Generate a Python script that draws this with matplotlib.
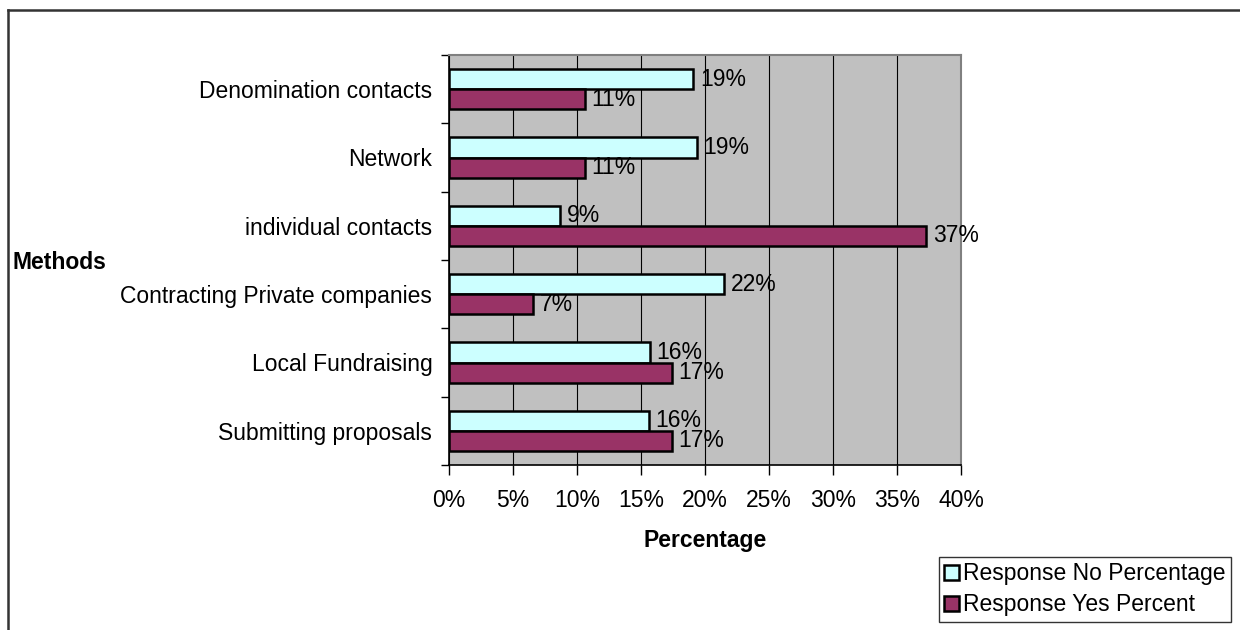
import numpy as np
import matplotlib
matplotlib.use("Agg")
import matplotlib.pyplot as plt
from matplotlib.lines import Line2D

plt.rcParams['font.family'] = ['Liberation Sans', 'DejaVu Sans']

# Fundraising methods, listed bottom to top
methods = ["Submitting proposals", "Local Fundraising", "Contracting Private companies",
           "individual contacts", "Network", "Denomination contacts"]
no_pct = [15.6, 15.7, 21.5, 8.7, 19.4, 19.1]
yes_pct = [17.4, 17.4, 6.6, 37.3, 10.6, 10.6]
xticks = [0, 5, 10, 15, 20, 25, 30, 35, 40]

FS = 16.5

fig = plt.figure(figsize=(12.4, 6.3), dpi=100)
ax = fig.add_axes([449 / 1240, 165 / 630, 512 / 1240, 410 / 630])
ax.set_facecolor("#C0C0C0")

y = np.arange(len(methods))
h = 0.293
ax.barh(y + h / 2, no_pct, height=h, color="#CCFFFF", edgecolor="black",
        linewidth=1.8, label="Response No Percentage", zorder=3)
ax.barh(y - h / 2, yes_pct, height=h, color="#993366", edgecolor="black",
        linewidth=1.8, label="Response Yes Percent", zorder=3)

# value labels at the end of each bar
for yi, v in zip(y, no_pct):
    ax.text(v + 0.5, yi + h / 2, f"{v:.0f}%", va="center", ha="left", fontsize=FS, zorder=4)
for yi, v in zip(y, yes_pct):
    ax.text(v + 0.5, yi - h / 2, f"{v:.0f}%", va="center", ha="left", fontsize=FS, zorder=4)

ax.set_xlim(0, 40)
ax.set_ylim(-0.5, len(methods) - 0.5)
ax.set_xticks(xticks)
ax.set_xticklabels([f"{t}%" for t in xticks], fontsize=FS)
ax.tick_params(axis="x", direction="out", length=7, width=1, pad=10)

# category boundaries get the tick marks, names sit in between
ax.set_yticks(np.arange(-0.5, len(methods), 1.0))
ax.set_yticklabels([])
ax.set_yticks(y, minor=True)
ax.set_yticklabels(methods, minor=True, fontsize=FS)
ax.tick_params(axis="y", which="major", direction="out", length=6, width=1)
ax.tick_params(axis="y", which="minor", length=0, pad=12)

ax.grid(axis="x", color="black", linewidth=0.8, zorder=1)
ax.set_axisbelow(True)
for s in ["top", "right"]:
    ax.spines[s].set_color("#808080")
    ax.spines[s].set_linewidth(1.5)
for s in ["left", "bottom"]:
    ax.spines[s].set_color("black")
    ax.spines[s].set_linewidth(1.2)

fig.text(705 / 1240, 1 - 541 / 630, "Percentage", ha="center", va="center",
         fontsize=FS, fontweight="bold")
fig.text(12 / 1240, 1 - 262 / 630, "Methods", ha="left", va="center",
         fontsize=FS, fontweight="bold")

leg = fig.legend(loc="lower right", bbox_to_anchor=(1231 / 1240, 8 / 630),
                 fontsize=FS, frameon=True, fancybox=False, shadow=False,
                 handlelength=0.65, handleheight=0.65, handletextpad=0.15,
                 borderpad=0.25, labelspacing=0.35, borderaxespad=0)
leg.get_frame().set_edgecolor("black")
leg.get_frame().set_linewidth(1.0)

# outer chart border (top and left edges visible)
fig.add_artist(Line2D([8 / 1240, 1.0], [1 - 10 / 630, 1 - 10 / 630],
                      transform=fig.transFigure, color="#333333", linewidth=1.8))
fig.add_artist(Line2D([8 / 1240, 8 / 1240], [0.0, 1 - 10 / 630],
                      transform=fig.transFigure, color="#333333", linewidth=1.8))

fig.savefig("out.png", dpi=100)
